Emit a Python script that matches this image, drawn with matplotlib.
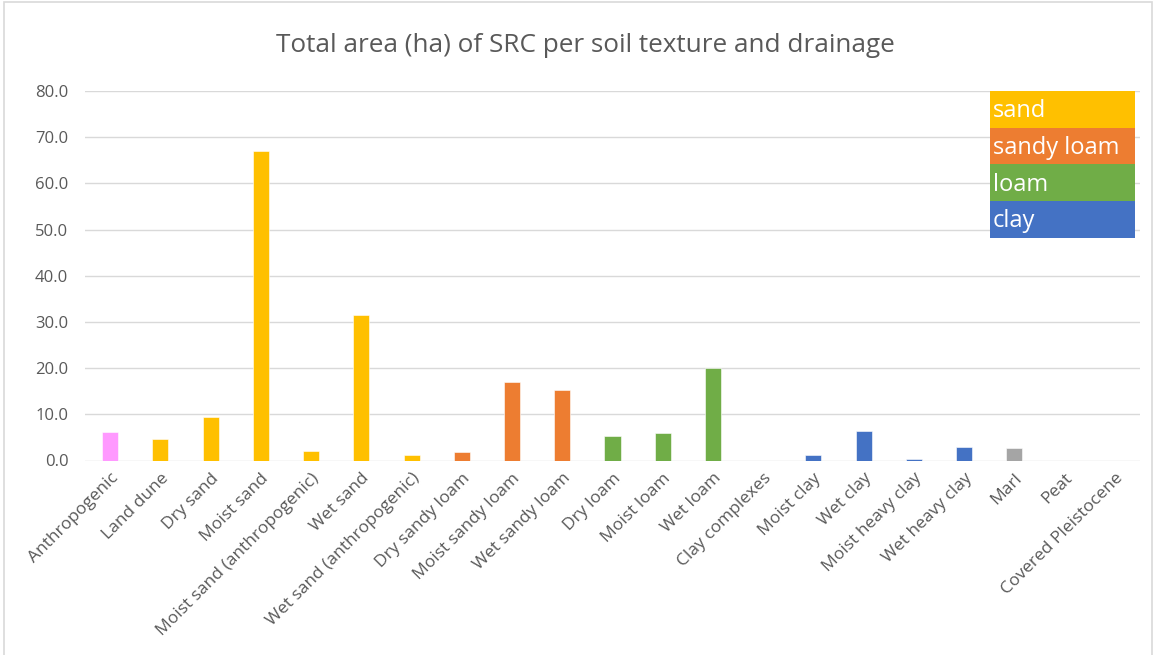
import matplotlib
matplotlib.use("Agg")
import matplotlib.pyplot as plt
from matplotlib.patches import Rectangle

# Soil texture / drainage classes and area in hectares
categories = [
    "Anthropogenic", "Land dune", "Dry sand", "Moist sand",
    "Moist sand (anthropogenic)", "Wet sand", "Wet sand (anthropogenic)",
    "Dry sandy loam", "Moist sandy loam", "Wet sandy loam",
    "Dry loam", "Moist loam", "Wet loam", "Clay complexes",
    "Moist clay", "Wet clay", "Moist heavy clay", "Wet heavy clay",
    "Marl", "Peat", "Covered Pleistocene",
]
area_ha = [6.1, 4.7, 9.4, 67.0, 2.1, 31.5, 1.2, 1.8, 16.9, 15.3,
           5.3, 6.0, 20.1, 0.0, 1.1, 6.4, 0.4, 3.0, 2.8, 0.0, 0.0]
texture = ["other", "sand", "sand", "sand", "sand", "sand", "sand",
           "sandy loam", "sandy loam", "sandy loam",
           "loam", "loam", "loam", "clay", "clay", "clay", "clay", "clay",
           "marl", "marl", "marl"]
y_ticks = [0, 10, 20, 30, 40, 50, 60, 70, 80]

texture_colors = {
    "other": "#FF99FF",
    "sand": "#FFC000",
    "sandy loam": "#ED7D31",
    "loam": "#70AD47",
    "clay": "#4472C4",
    "marl": "#A5A5A5",
}
legend_items = ["sand", "sandy loam", "loam", "clay"]

W, H = 1158, 655
fig = plt.figure(figsize=(W / 100, H / 100), dpi=100)
fig.patch.set_facecolor("white")

# chart border
fig.add_artist(Rectangle((4 / W, -10 / H), (W - 10) / W, (H + 8) / H,
                         transform=fig.transFigure, fill=False,
                         edgecolor="#D9D9D9", linewidth=1.2))

ax = fig.add_axes([85 / W, 1 - 460.5 / H, (1140 - 85) / W, (460.5 - 91) / H])
x = list(range(len(categories)))
ax.bar(x, area_ha, width=0.32,
       color=[texture_colors[t] for t in texture],
       edgecolor="white", linewidth=0.4, zorder=3)

ax.set_xlim(-0.5, len(categories) - 0.5)
ax.set_ylim(0, 80)
ax.set_yticks(y_ticks)
ax.set_yticklabels([f"{v:.1f}" for v in y_ticks])
ax.set_xticks(x)
ax.set_xticklabels(categories, rotation=45, ha="right", rotation_mode="anchor")

ax.grid(axis="y", color="#D9D9D9", linewidth=1.0, zorder=0)
for s in ax.spines.values():
    s.set_visible(False)
ax.tick_params(axis="both", length=0, colors="#595959", labelsize=12)
ax.tick_params(axis="y", pad=12)
ax.tick_params(axis="x", labelsize=12.5, pad=7)
for lbl in ax.get_xticklabels() + ax.get_yticklabels():
    lbl.set_fontfamily("Open Sans")

fig.text(585 / W, 1 - 46 / H, "Total area (ha) of SRC per soil texture and drainage",
         ha="center", va="center", fontsize=18.8, color="#595959",
         fontfamily="Open Sans")

# colour key drawn as stacked bands
bx0, bx1 = 990, 1135
by0, band_h = 91, 36.7
for i, name in enumerate(legend_items):
    top = by0 + i * band_h
    fig.add_artist(Rectangle((bx0 / W, 1 - (top + band_h) / H),
                             (bx1 - bx0) / W, band_h / H,
                             transform=fig.transFigure,
                             facecolor=texture_colors[name], edgecolor="none",
                             zorder=5))
    fig.text((bx0 + 3) / W, 1 - (top + band_h / 2 + 2) / H, name,
             ha="left", va="center", fontsize=17, color="white",
             fontfamily="Open Sans", zorder=6)

fig.savefig("out.png", dpi=100, facecolor="white")
